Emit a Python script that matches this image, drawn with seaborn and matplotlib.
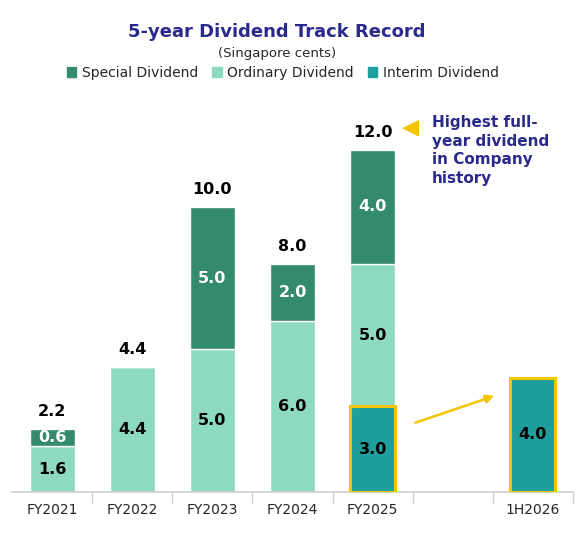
import pandas as pd
import numpy as np
import matplotlib.pyplot as plt
import seaborn as sns

categories = ["FY2021", "FY2022", "FY2023", "FY2024", "FY2025", " ", "1H2026"]
interim = [0, 0, 0, 0, 3.0, 0, 4.0]
ordinary = [1.6, 4.4, 5.0, 6.0, 5.0, 0, 0]
special = [0.6, 0, 5.0, 2.0, 4.0, 0, 0]
totals = ["2.2", "4.4", "10.0", "8.0", "12.0", "", ""]

c_special = "#338a6c"
c_ord = "#8ed9c1"
c_int = "#1e9e9c"
yellow = "#f5c400"
navy = "#2a2a8c"

df = pd.DataFrame({"cat": categories, "interim": interim,
                   "ordinary": ordinary, "special": special})
df["b_ord"] = df["interim"]
df["b_spec"] = df["interim"] + df["ordinary"]

sns.set_theme(style="white")
fig = plt.figure(figsize=(5.83, 5.46), dpi=100)
ax = fig.add_axes([12 / 583, 54 / 546, 561 / 583, 392 / 546])

w = 0.56
sns.barplot(data=df, x="cat", y="interim", order=categories, color=c_int,
            width=w, saturation=1, ax=ax)
sns.barplot(data=df, x="cat", y="ordinary", order=categories, color=c_ord,
            width=w, saturation=1, bottom=df["b_ord"], ax=ax)
sns.barplot(data=df, x="cat", y="special", order=categories, color=c_special,
            width=w, saturation=1, bottom=df["b_spec"], ax=ax)

# yellow outlines on interim bars
for i, v in enumerate(interim):
    if v > 0:
        ax.add_patch(plt.Rectangle((i - w / 2, 0), w, v, fill=False,
                                   edgecolor=yellow, lw=2.2, zorder=5))

# segment labels
for i in range(len(categories)):
    for val, base, col in [(interim[i], 0, "black"),
                           (ordinary[i], interim[i], "black"),
                           (special[i], interim[i] + ordinary[i], "white")]:
        if val > 0:
            ax.text(i, base + val / 2, f"{val:.1f}", ha="center", va="center",
                    fontsize=11.5, fontweight="bold", color=col, zorder=6)
    tot = interim[i] + ordinary[i] + special[i]
    if totals[i]:
        ax.text(i, tot + 0.35, totals[i], ha="center", va="bottom",
                fontsize=11.5, fontweight="bold", color="black")

ax.set_ylim(0, 13.75)
ax.set_xlim(-0.5, 6.5)
ax.set_yticks([])
ax.set_xlabel("")
ax.set_ylabel("")
sns.despine(ax=ax, left=True)
ax.spines["bottom"].set_color("#d0d0d0")
ax.set_xticks(np.arange(len(categories)) + 0.5, minor=True)
ax.tick_params(axis="x", which="minor", length=8, color="#d0d0d0", bottom=True)
ax.tick_params(axis="x", which="major", length=0, labelsize=10, pad=8)

# callout
ax.annotate("", xy=(5.55, 3.4), xytext=(4.5, 2.4),
            arrowprops=dict(arrowstyle="-|>", color=yellow, lw=1.8, mutation_scale=12))
fig.text(410 / 583, 1 - 127 / 546, "\u25C0", color=yellow, fontsize=16,
         ha="center", va="center")
fig.text(432 / 583, 1 - 115 / 546, "Highest full-\nyear dividend\nin Company\nhistory",
         color=navy, fontsize=11, fontweight="bold", ha="left", va="top",
         linespacing=1.3)

fig.text(0.475, 1 - 32 / 546, "5-year Dividend Track Record", color=navy,
         fontsize=13, fontweight="bold", ha="center", va="center")
fig.text(0.475, 1 - 53 / 546, "(Singapore cents)", fontsize=9.5,
         ha="center", va="center")

handles = [plt.Rectangle((0, 0), 1, 1, color=c) for c in (c_special, c_ord, c_int)]
fig.legend(handles, ["Special Dividend", "Ordinary Dividend", "Interim Dividend"],
           loc="center", bbox_to_anchor=(0.485, 1 - 73 / 546), ncol=3,
           frameon=False, fontsize=10, handlelength=0.7, handleheight=0.7,
           columnspacing=1.0, handletextpad=0.4)

fig.savefig("out.png", dpi=100)
